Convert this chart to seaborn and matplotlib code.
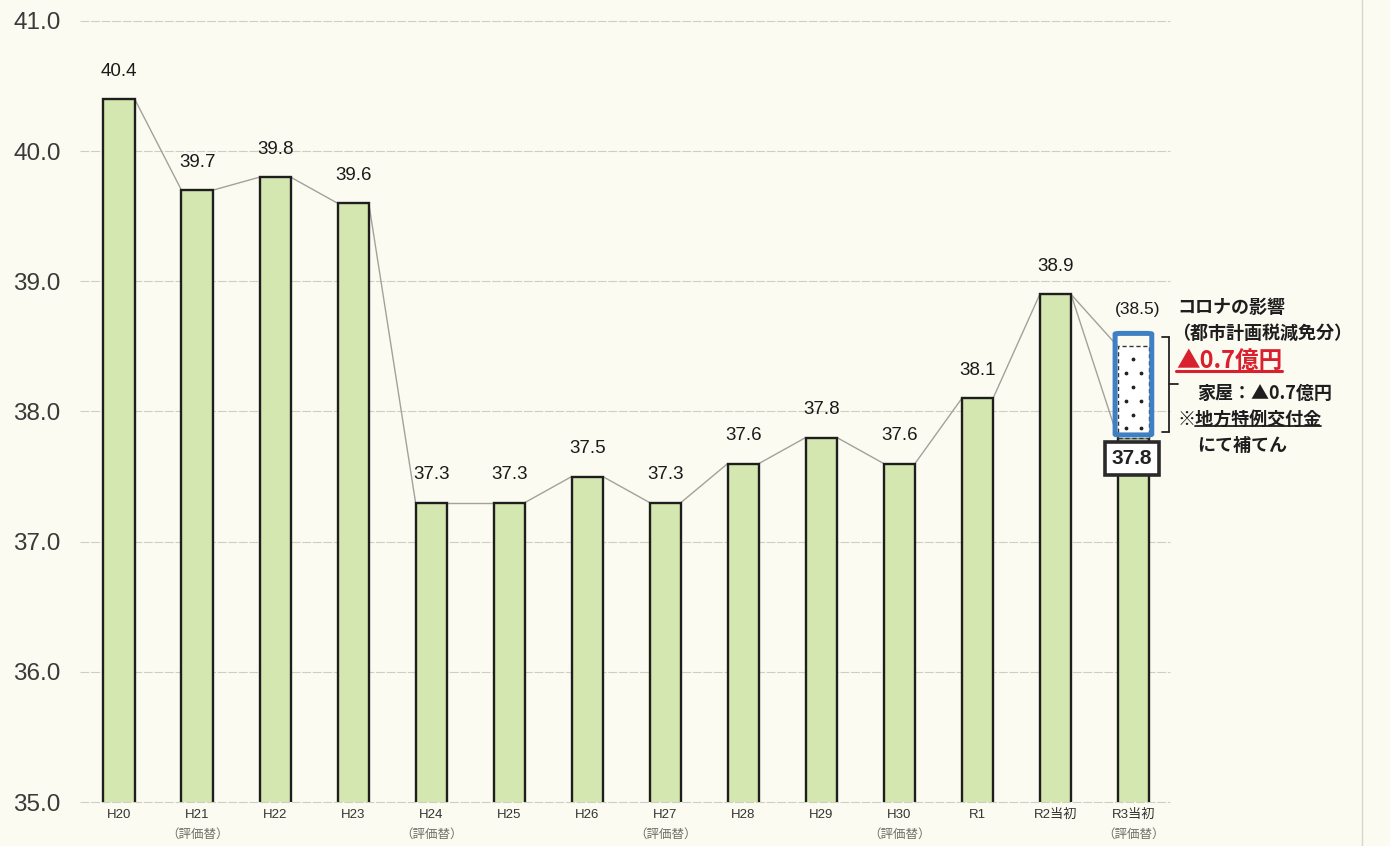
import numpy as np
import pandas as pd
import seaborn as sns
import matplotlib.pyplot as plt
from matplotlib.patches import Rectangle, FancyBboxPatch
from matplotlib.lines import Line2D

# ---- data -------------------------------------------------------------
years = ["H20", "H21", "H22", "H23", "H24", "H25", "H26", "H27",
         "H28", "H29", "H30", "R1", "R2当初", "R3当初"]
sub_labels = ["", "（評価替）", "", "", "（評価替）", "", "", "（評価替）",
              "", "", "（評価替）", "", "", "（評価替）"]
values = [40.4, 39.7, 39.8, 39.6, 37.3, 37.3, 37.5, 37.3,
          37.6, 37.8, 37.6, 38.1, 38.9, 37.8]
before_relief = 38.5          # R3 value without the COVID-19 reduction
y_ticks = [35.0, 36.0, 37.0, 38.0, 39.0, 40.0, 41.0]

df = pd.DataFrame({"year": years, "value": values})

# ---- style ------------------------------------------------------------
sns.set_theme(style="white")
plt.rcParams["font.family"] = ["Liberation Sans", "Noto Sans CJK JP", "DejaVu Sans"]
CJK = ["Noto Sans CJK JP", "DejaVu Sans"]

BG = "#fcfbf1"
BAR = "#d4e7b0"
EDGE = "#1e1e1e"
LINK = "#a2a29a"
GRID = "#cfcec3"

fig = plt.figure(figsize=(13.9, 8.46), dpi=100, facecolor=BG)
ax = fig.add_axes([0.0576, 0.052, 0.7842, 0.9232])
ax.set_facecolor(BG)

bw = 0.4
sns.barplot(data=df, x="year", y="value", ax=ax, color=BAR, width=bw,
            edgecolor=EDGE, linewidth=1.7, saturation=1, zorder=3)

ax.set_ylim(35, 41)
ax.set_xlim(-0.5, 13.47)
ax.set_yticks(y_ticks)
ax.set_yticklabels([f"{v:.1f}" for v in y_ticks], fontsize=17.5, color="#3a3a3a")
for s in ax.spines.values():
    s.set_visible(False)
ax.tick_params(axis="both", length=0)
ax.tick_params(axis="y", pad=14)
ax.set_xlabel("")
ax.set_ylabel("")

# horizontal grid
for v in y_ticks:
    ax.axhline(v, color=GRID, lw=0.8, ls=(0, (8, 1.5)), zorder=1, clip_on=False)

# x labels: year on the first line, revaluation note below
ax.set_xticks(range(len(years)))
ax.set_xticklabels(years, fontsize=9.5, color="#333333")
ax.tick_params(axis="x", pad=5)
for i, s in enumerate(sub_labels):
    if s:
        ax.annotate(s, xy=(i, 35), xycoords="data", xytext=(0, -23),
                    textcoords="offset points", ha="center", va="center",
                    fontsize=9, color="#707068", family=CJK,
                    annotation_clip=False)

# connector lines between neighbouring bar tops
for i in range(len(values) - 1):
    ax.plot([i + bw / 2, i + 1 - bw / 2], [values[i], values[i + 1]],
            color=LINK, lw=1.0, zorder=2)
last = len(values) - 1
ax.plot([last - 1 + bw / 2, last - bw / 2], [values[-2], before_relief],
        color=LINK, lw=1.0, zorder=2)

# value labels
for i, v in enumerate(values[:-1]):
    ax.annotate(f"{v:.1f}", xy=(i, v), xytext=(0, 14), textcoords="offset points",
                ha="center", va="bottom", fontsize=13.5, color="#1a1a1a")

# R3: reduction block between actual and pre-relief amount
x0 = last - bw / 2
blk = Rectangle((x0, values[-1]), bw, before_relief - values[-1],
                facecolor="white", edgecolor="#333333", lw=1.0,
                ls=(0, (3, 2)), zorder=4)
ax.add_patch(blk)
ys = np.linspace(values[-1] + 0.07, before_relief - 0.1, 6)
for k, yy in enumerate(ys):
    xs = [last - 0.1, last + 0.1] if k % 2 == 0 else [last]
    ax.scatter(xs, [yy] * len(xs), s=3, color="#222222", zorder=5)
rbox = FancyBboxPatch((x0 - 0.035, values[-1] + 0.02), bw + 0.07,
                      before_relief - values[-1] + 0.08,
                      boxstyle="round,pad=0,rounding_size=0.07",
                      facecolor="none", edgecolor="#3f7fc4", lw=3.6, zorder=6,
                      mutation_aspect=1 / 12)
ax.add_patch(rbox)

ax.annotate(f"({before_relief:.1f})", xy=(last, before_relief), xytext=(3, 21),
            textcoords="offset points", ha="center", va="bottom",
            fontsize=12.5, color="#1a1a1a", zorder=7)
ax.annotate(f"{values[-1]:.1f}", xy=(last, values[-1]), xytext=(-1, -15),
            textcoords="offset points", ha="center", va="center",
            fontsize=15, fontweight="bold", color="#222222", zorder=7,
            bbox=dict(boxstyle="square,pad=0.32", facecolor="white",
                      edgecolor="#2a2a2a", lw=2.6))


# bracket next to the reduction block
def fx(px):
    return px / 1390


def fy(py):
    return 1 - py / 846


bx0, bx1 = 1162, 1169
for seg in [([bx0, bx1], [337, 337]), ([bx1, bx1], [337, 432]),
            ([bx0, bx1], [432, 432]), ([bx1, 1178], [384, 384])]:
    fig.add_artist(Line2D([fx(p) for p in seg[0]], [fy(p) for p in seg[1]],
                          color="#222222", lw=1.3))

# explanatory notes
notes = [
    ("コロナの影響", 1177, 307, 13, "#1e1e1e", False),
    ("（都市計画税減免分）", 1172, 333, 13, "#1e1e1e", False),
    ("▲0.7億円", 1176, 361, 17, "#d9202e", True),
    ("家屋：▲0.7億円", 1197, 393, 13, "#1e1e1e", False),
    ("※地方特例交付金", 1177, 419, 13, "#1e1e1e", "part"),
    ("にて補てん", 1197, 445, 13, "#1e1e1e", False),
]
texts = []
for txt, px, py, fs, col, ul in notes:
    t = fig.text(fx(px), fy(py), txt, fontsize=fs, color=col, fontweight="bold",
                 ha="left", va="center", family=CJK)
    texts.append((t, ul, col))

fig.canvas.draw()
renderer = fig.canvas.get_renderer()
for t, ul, col in texts:
    if not ul:
        continue
    bb = t.get_window_extent(renderer)
    x_start = bb.x0
    if ul == "part":
        x_start = bb.x0 + (bb.x1 - bb.x0) / 8
    yline = bb.y0 + 2
    fig.add_artist(Line2D([x_start / fig.bbox.width, bb.x1 / fig.bbox.width],
                          [yline / fig.bbox.height] * 2, color=col,
                          lw=2.2 if ul is True else 1.3))

# page margin rule
fig.add_artist(Line2D([fx(1362), fx(1362)], [0, 1], color="#d8d7cc", lw=1.0))

fig.savefig("out.png", dpi=100, facecolor=BG)
